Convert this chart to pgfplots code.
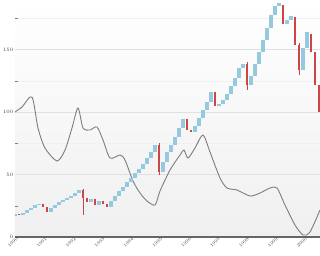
\documentclass[border=0pt]{standalone}
\usepackage{pgfplots}
\usepackage{pgfplotstable}
\pgfplotsset{compat=1.18}
\definecolor{upcol}{RGB}{150,200,222}
\definecolor{dncol}{RGB}{205,70,70}
\definecolor{osc}{RGB}{125,125,125}
\pgfplotstableread{
x o c
0 16.8 18.4
8 17.6 19.2
12 19.2 21.6
16 21.6 23.2
20 23.2 25.6
24 25.6 26.4
36 20 23.2
40 23.2 25.6
44 25.6 28
48 28 29.6
52 29.6 31.2
56 31.2 32.8
60 32.8 35.2
64 35.2 37.6
76 28 30.4
84 25.6 28.8
96 24 28.8
100 28.8 32.8
104 32.8 36.8
108 36.8 40
112 40 44
116 44 47.2
120 47.2 51.2
124 51.2 54.4
128 54.4 58.4
132 58.4 63.2
136 63.2 68
140 68 73.6
148 52 60
152 60 68
156 68 73.6
160 73.6 80
164 80 87.2
168 87.2 94.4
180 84 88.8
184 88.8 95.2
188 95.2 101.6
192 101.6 108
196 108 116
204 104.8 106.4
208 106.4 109.6
212 109.6 114.4
216 114.4 120.8
220 120.8 127.2
224 127.2 135.2
228 135.2 138.4
236 121.6 128.8
240 128.8 138.4
244 138.4 148
248 148 157.6
252 157.6 167.2
256 167.2 177.6
260 177.6 184.8
264 184.8 187.2
272 170.4 173.6
276 173.6 176.8
288 133.6 151.2
292 151.2 164
}\up
\pgfplotstableread{
x o c
4 18.4 17.6
28 26.4 24
32 24 20
68 37.6 31.2
72 31.2 28
80 30.4 25.6
88 28.8 26.4
92 26.4 24
144 73.6 52
172 94.4 85.6
176 85.6 84
200 116 104.8
232 138.4 121.6
268 185.6 170.4
280 176 153.6
284 153.6 133.6
296 162.4 148
300 148 121.6
304 121.6 100
}\down
\pgfplotstableread{
x l h
68 17.6 38.4
144 50 75
232 118 140
284 130 155
}\wick
\pgfplotstableread{
x y
0 100
7 104
17 112
23 87.2
30 71.2
42 60.8
50 69.6
57 87.2
63 103.2
68 87.2
75 85.6
82 88
88 77.6
95 63.2
105 65.6
110 61.6
118 44.8
125 35.2
132 28.8
140 25.6
145 36.8
155 53.6
165 65.6
169 69.6
173 63.2
180 71.2
188 81.6
195 68
205 47.2
212 39.2
222 37.6
235 32.8
245 35.2
255 39.2
262 39.2
270 25.6
280 9.6
288 1.6
295 4
305 21.6
}\osc
\begin{document}
\begin{tikzpicture}
\begin{axis}[
  at={(0,0)}, anchor=south west,
  scale only axis, width=305pt, height=237pt,
  xmin=0, xmax=305, ymin=0, ymax=189.6,
  axis lines*=left,
  x axis line style={draw=black!60, line width=1.3pt},
  y axis line style={draw=none},
  major tick length=0pt,
  ytick={0,50,100,150},
  minor ytick={25,75,125,175},
  ymajorgrids, yminorgrids,
  major grid style={draw=black!12, line width=0.6pt},
  minor grid style={draw=black!6, line width=0.5pt},
  xtick={3,31.9,60.8,89.7,118.6,147.5,176.4,205.3,234.2,263.1,292},
  xticklabels={1990,1991,1992,1993,1994,1995,1996,1997,1998,1999,2000},
  x tick label style={rotate=45, anchor=east, font=\fontsize{4.5}{5}\selectfont, text=black!75, inner sep=1pt},
  y tick label style={font=\fontsize{4.5}{5}\selectfont, text=black!75, inner sep=1.5pt},
  axis background/.style={top color=white, bottom color=black!6},
  clip=true,
]
\addplot[smooth, tension=0.45, osc, line width=0.9pt, mark=none] table[x=x,y=y] {\osc};
\addplot[draw=none, no markers, error bars/.cd, y dir=plus, y explicit, error mark=none, error bar style={line width=0.6pt, draw=dncol}]
  table[x=x, y=l, y error plus expr=\thisrow{h}-\thisrow{l}] {\wick};
\addplot[draw=none, no markers, error bars/.cd, y dir=plus, y explicit, error mark=none, error bar style={line width=3.4pt, draw=upcol}]
  table[x=x, y=o, y error plus expr=\thisrow{c}-\thisrow{o}] {\up};
\addplot[draw=none, no markers, error bars/.cd, y dir=minus, y explicit, error mark=none, error bar style={line width=2.4pt, draw=dncol}]
  table[x=x, y=o, y error minus expr=\thisrow{o}-\thisrow{c}] {\down};
\end{axis}
\pgfresetboundingbox
\useasboundingbox (-15pt,-18pt) rectangle (305pt,237pt);
\end{tikzpicture}
\end{document}
